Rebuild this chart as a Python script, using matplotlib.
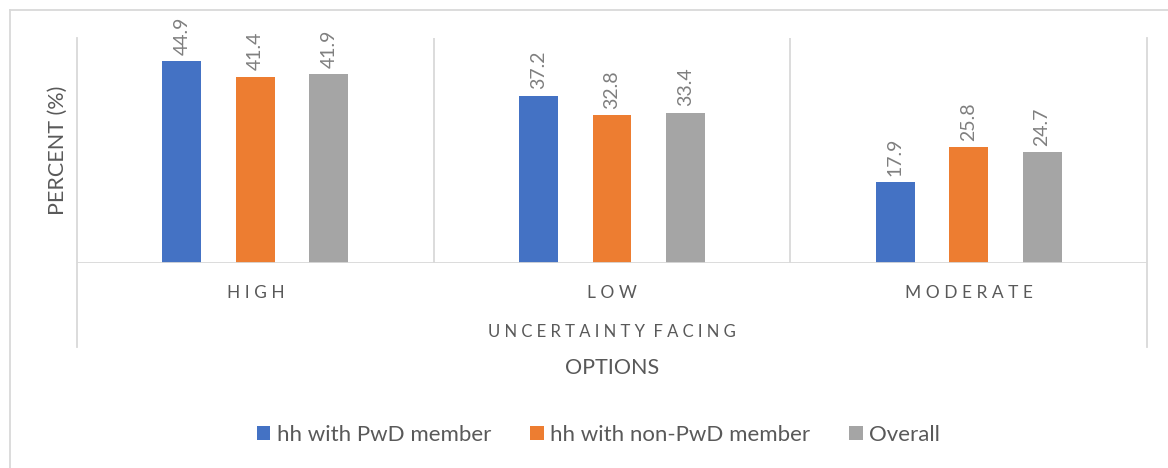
import matplotlib
matplotlib.use("Agg")
import matplotlib.pyplot as plt
from matplotlib.lines import Line2D
from matplotlib.patches import Patch
import numpy as np

categories = ["HIGH", "LOW", "MODERATE"]
series_names = ["hh with PwD member", "hh with non-PwD member", "Overall"]
pwd = [44.9, 37.2, 17.9]
non_pwd = [41.4, 32.8, 25.8]
overall = [41.9, 33.4, 24.7]
outer_label = "UNCERTAINTY FACING"
x_title = "OPTIONS"
y_title = "PERCENT (%)"

colors = ["#4472C4", "#ED7D31", "#A5A5A5"]
text_dark = "#595959"
label_gray = "#7F7F7F"
line_gray = "#D9D9D9"

W, H = 1168, 468
plt.rcParams["font.family"] = ["Lato", "DejaVu Sans"]
fig = plt.figure(figsize=(W / 100, H / 100), dpi=100)

def fx(x):
    return x / W

def fy(y):
    return 1 - y / H

# plot area in pixel coordinates
left_px, right_px, top_px, base_px = 77, 1147, 38, 263
ax = fig.add_axes([fx(left_px), fy(base_px), fx(right_px - left_px), (base_px - top_px) / H])
ax.set_xlim(-0.5, 2.5)
ax.set_ylim(0, 50)
for s in ax.spines.values():
    s.set_visible(False)
ax.set_xticks([])
ax.set_yticks([])

x = np.arange(len(categories))
step = 0.206
bw = 0.109
series = [pwd, non_pwd, overall]
for i, (vals, c, name) in enumerate(zip(series, colors, series_names)):
    xs = x + (i - 1) * step
    ax.bar(xs, vals, width=bw, color=c, label=name, zorder=3)
    for xi, v in zip(xs, vals):
        ax.annotate(f"{v:.1f}", xy=(xi, v), xytext=(0, 4.5), textcoords="offset points",
                    rotation=90, ha="center", va="bottom", fontsize=14, color=label_gray)

# separators inside plot area
for xs in [0.5, 1.5]:
    ax.axvline(xs, color=line_gray, lw=1.3, zorder=1)
ax.axhline(0, color=line_gray, lw=1.3, zorder=4)

# outer verticals extending below the axis
bottom_px = 347
for xp in [left_px, right_px]:
    fig.add_artist(Line2D([fx(xp), fx(xp)], [fy(top_px), fy(bottom_px)],
                          transform=fig.transFigure, color=line_gray, lw=1.3))

# chart frame
fig.add_artist(Line2D([fx(9.5), fx(9.5)], [fy(9.5), 0], transform=fig.transFigure, color=line_gray, lw=1.3))
fig.add_artist(Line2D([fx(9.5), 1], [fy(9.5), fy(9.5)], transform=fig.transFigure, color=line_gray, lw=1.3))

def spaced(s):
    return "  ".join(" ".join(w) for w in s.split(" "))

cat_w = (right_px - left_px) / len(categories)
for i, c in enumerate(categories):
    cx = left_px + cat_w * (i + 0.5)
    fig.text(fx(cx), fy(293), spaced(c), ha="center", va="center", fontsize=12.5, color=text_dark)

fig.text(fx((left_px + right_px) / 2), fy(332), spaced(outer_label), ha="center", va="center",
         fontsize=12, color=text_dark)
fig.text(fx((left_px + right_px) / 2), fy(368), x_title, ha="center", va="center",
         fontsize=15.5, color=text_dark)
fig.text(fx(58), fy(150.5), y_title, ha="center", va="center", rotation=90,
         fontsize=15.5, color=text_dark)

handles = [Patch(facecolor=c, edgecolor="none") for c in colors]
fig.legend(handles, series_names, loc="center", bbox_to_anchor=(fx(598.5), fy(435)),
           ncol=3, frameon=False, fontsize=16, labelcolor=text_dark,
           handlelength=0.6, handleheight=0.6, handletextpad=0.3, columnspacing=1.75)

fig.savefig("out.png", dpi=100, facecolor="white")
